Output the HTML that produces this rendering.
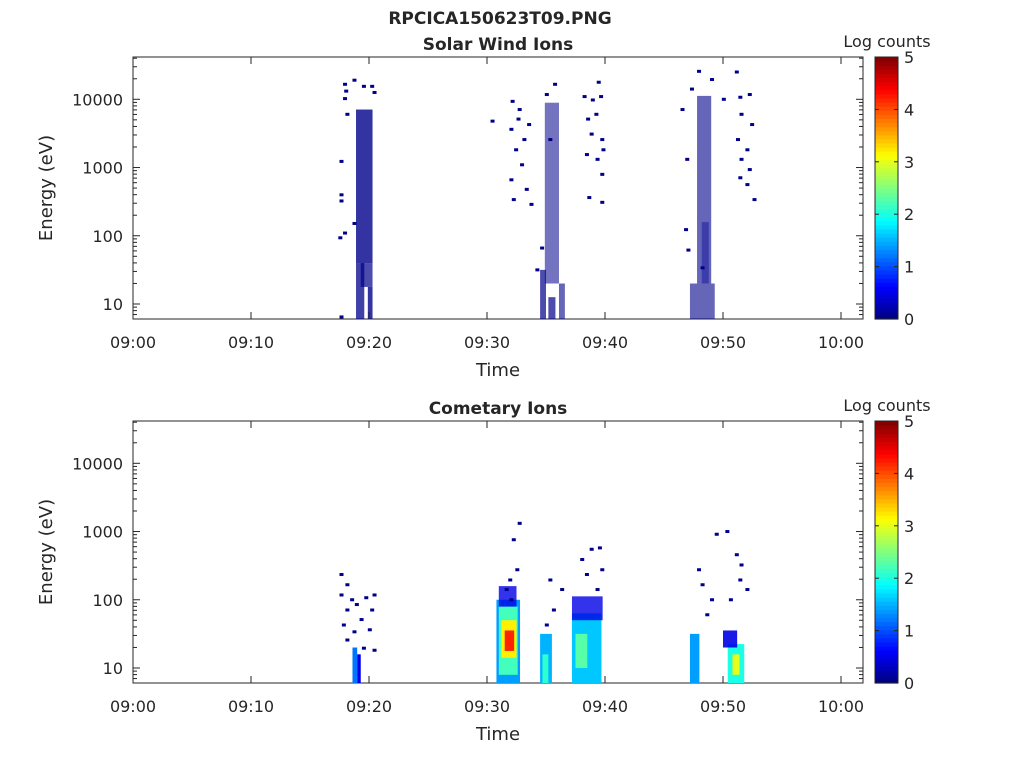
<!DOCTYPE html>
<html><head><meta charset="utf-8"><style>
body{margin:0;background:#fff;width:1024px;height:768px;overflow:hidden}
svg{font-family:"DejaVu Sans","Liberation Sans",sans-serif}
</style></head><body>
<svg id="c" width="1024" height="768"></svg>
<script>
// ---- data ----
const xTicks=["09:00","09:10","09:20","09:30","09:40","09:50","10:00"];
const yTickVals=[1,2,3,4];
const yTickLabels=["10","100","1000","10000"];
const cbTicks=[0,1,2,3,4,5];
// blocks: [t0 min, t1 min, logE0, logE1, logCount, density]
const swBlocks=[[18.9,20.3,1.6,3.85,0.05,0.8],[18.9,19.6,0.78,1.6,0.05,0.75],[19.9,20.3,0.78,1.25,0.05,0.8],[19.3,20.3,1.25,1.6,0.05,0.7],
[34.5,35.0,0.78,1.5,0.05,0.7],[34.9,36.1,1.3,3.95,0.05,0.55],[36.1,36.6,0.78,1.3,0.05,0.6],[35.2,35.8,0.78,1.1,0.05,0.7],
[47.2,49.3,0.78,1.3,0.05,0.6],[47.8,49.0,1.3,4.05,0.05,0.6],[48.2,48.8,1.3,2.2,0.1,0.4]];
const swDots=[[17.8,4.22],[17.9,4.12],[17.8,4.01],[18.0,3.78],[18.6,4.28],[19.4,4.19],[20.3,4.10],[20.1,4.19],[17.5,3.09],[17.5,2.60],[17.5,2.51],[17.4,1.97],[17.8,2.04],[18.6,2.18],[17.5,0.81],
[30.3,3.68],[32.0,3.97],[32.6,3.85],[31.9,3.56],[33.0,3.41],[32.3,3.26],[32.8,3.04],[31.9,2.82],[33.2,2.68],[32.1,2.53],[33.6,2.46],[32.5,3.71],[33.4,3.63],[34.9,4.07],[35.6,4.22],[34.5,1.82],[34.1,1.5],[35.2,3.41],
[38.1,4.04],[38.8,3.99],[39.5,4.04],[39.3,4.25],[38.4,3.71],[39.1,3.78],[38.7,3.49],[39.6,3.41],[38.3,3.19],[39.2,3.12],[39.6,2.9],[38.5,2.56],[39.6,2.49],[39.7,3.26],
[46.4,3.85],[47.2,4.15],[47.8,4.41],[46.8,3.12],[46.7,2.09],[46.9,1.79],[48.1,1.53],
[51.0,4.40],[51.3,4.03],[52.1,4.07],[51.4,3.78],[52.3,3.63],[51.1,3.41],[51.9,3.26],[51.4,3.12],[52.1,2.97],[51.3,2.85],[51.9,2.75],[52.5,2.53],[48.9,4.29],[49.9,4.0]];
const ciBlocks=[[18.6,19.0,0.78,1.3,1.2,1],[19.0,19.3,0.78,1.2,0.5,1],
[30.8,32.8,0.78,2.0,1.4,1],[31.0,32.6,0.9,1.9,2.2,1],[31.2,32.5,1.15,1.7,3.2,1],[31.5,32.3,1.25,1.55,4.2,1],[31.0,32.5,1.9,2.2,0.5,0.8],
[34.5,35.5,0.78,1.5,1.5,1],[34.7,35.2,0.78,1.2,2.1,1],
[37.2,39.7,0.78,1.8,1.6,1],[37.5,38.5,1.0,1.5,2.3,1],[37.2,39.8,1.7,2.05,0.5,0.8],
[47.2,48.0,0.78,1.5,1.4,1],[50.4,51.8,0.78,1.35,2.0,1],[50.8,51.4,0.9,1.2,3.0,1],[50.0,51.2,1.3,1.55,0.5,0.9]];
const ciDots=[[17.5,2.37],[18.0,2.22],[17.5,2.07],[18.4,2.0],[18.0,1.85],[18.8,1.93],[19.6,2.03],[20.3,2.07],[20.1,1.85],[19.2,1.71],[17.7,1.63],[18.6,1.53],[19.9,1.56],[18.0,1.41],[20.3,1.26],[19.4,1.29],
[31.9,2.0],[31.8,2.29],[32.4,2.44],[31.5,2.15],[32.1,2.88],[32.6,3.12],[35.2,2.29],[36.2,2.15],[35.5,1.85],[34.9,1.63],[37.9,2.59],[38.7,2.74],[39.4,2.76],[38.3,2.37],[39.2,2.15],[39.6,2.44],
[47.8,2.44],[48.1,2.22],[48.9,2.0],[48.5,1.78],[51.0,2.66],[51.4,2.51],[51.3,2.29],[51.9,2.15],[50.5,2.0],[49.3,2.96],[50.2,3.0]];
// ---- drawing ----
const NS="http://www.w3.org/2000/svg",svg=document.getElementById('c');
function el(t,a,p){const e=document.createElementNS(NS,t);for(const k in a)e.setAttribute(k,a[k]);(p||svg).appendChild(e);return e;}
function txt(x,y,s,sz,anc,w,p){const e=el('text',{x:x,y:y,'font-size':sz,'text-anchor':anc,'font-weight':w||'normal',fill:'#262626'},p);e.textContent=s;return e;}
function jet(v){const x=Math.max(0,Math.min(1,v/5));const f=c=>Math.round(255*Math.max(0,Math.min(1,1.5-Math.abs(4*x-c))));return `rgb(${f(3)},${f(2)},${f(1)})`;}
const X0=133,X1=863,PXMIN=708/60,LMIN=0.78,LMAX=4.62;
const xs=t=>X0+t*PXMIN;
function panel(top,title,blocks,dots,id){
  const H=262,ys=l=>top+H-(l-LMIN)/(LMAX-LMIN)*H;
  const g=el('g',{});
  el('rect',{x:X0,y:top,width:X1-X0,height:H,fill:'#fff',stroke:'#262626','stroke-width':1},g);
  blocks.forEach(b=>{const r=el('rect',{x:xs(b[0]),y:ys(b[3]),width:xs(b[1])-xs(b[0]),height:ys(b[2])-ys(b[3]),fill:jet(b[4]),'fill-opacity':b[5]},g);
    });
  dots.forEach(d=>{const r=el('rect',{x:xs(d[0]),y:ys(d[1])-1.5,width:4,height:3,fill:jet(0.05)},g);
    });
  xTicks.forEach((s,i)=>{const x=xs(i*10);el('line',{x1:x,x2:x,y1:top+H,y2:top+H-7,stroke:'#262626'},g);el('line',{x1:x,x2:x,y1:top,y2:top+7,stroke:'#262626'},g);
    const t=txt(x,top+H+29,s,16,'middle','normal',g);});
  yTickVals.forEach((v,i)=>{const y=ys(v);el('line',{x1:X0,x2:X0+7,y1:y,y2:y,stroke:'#262626'},g);el('line',{x1:X1,x2:X1-7,y1:y,y2:y,stroke:'#262626'},g);
    const t=txt(X0-10,y+6,yTickLabels[i],16,'end','normal',g);
    for(let m=2;m<10;m++){const ly=v-1+Math.log10(m);if(ly>=LMIN){const yy=ys(ly);el('line',{x1:X0,x2:X0+4,y1:yy,y2:yy,stroke:'#262626'},g);el('line',{x1:X1,x2:X1-4,y1:yy,y2:yy,stroke:'#262626'},g);}}
  });
  [2,3,4].forEach(m=>{const l=4+Math.log10(m);if(l<=LMAX){const yy=ys(l);el('line',{x1:X0,x2:X0+4,y1:yy,y2:yy,stroke:'#262626'},g);el('line',{x1:X1,x2:X1-4,y1:yy,y2:yy,stroke:'#262626'},g);}});
  const tt=txt(498,top-7,title,17,'middle','bold',g);
  const xl=txt(498,top+H+57,'Time',18,'middle','normal',g);
  const yl=txt(0,0,'Energy (eV)',18,'middle','normal',g);yl.setAttribute('transform',`translate(52,${top+H/2}) rotate(-90)`);
  const cb=el('g',{},g);
  const n=64;for(let i=0;i<n;i++){el('rect',{x:875,y:top+H-(i+1)*H/n,width:23,height:H/n+0.6,fill:jet((i+0.5)/n*5)},cb);}
  el('rect',{x:875,y:top,width:23,height:H,fill:'none',stroke:'#262626'},cb);
  cbTicks.forEach(v=>{const y=top+H-v/5*H;el('line',{x1:875,x2:879,y1:y,y2:y,stroke:'#262626'},cb);el('line',{x1:898,x2:894,y1:y,y2:y,stroke:'#262626'},cb);
    const t=txt(904,y+6,String(v),16,'start','normal',cb);});
  const cl=txt(887,top-10,'Log counts',16,'middle','normal',cb);
}
const mt=txt(500,24,'RPCICA150623T09.PNG',17,'middle','bold');


panel(57,'Solar Wind Ions',swBlocks,swDots,'solar-wind');
panel(421,'Cometary Ions',ciBlocks,ciDots,'cometary');
</script>
</body></html>
